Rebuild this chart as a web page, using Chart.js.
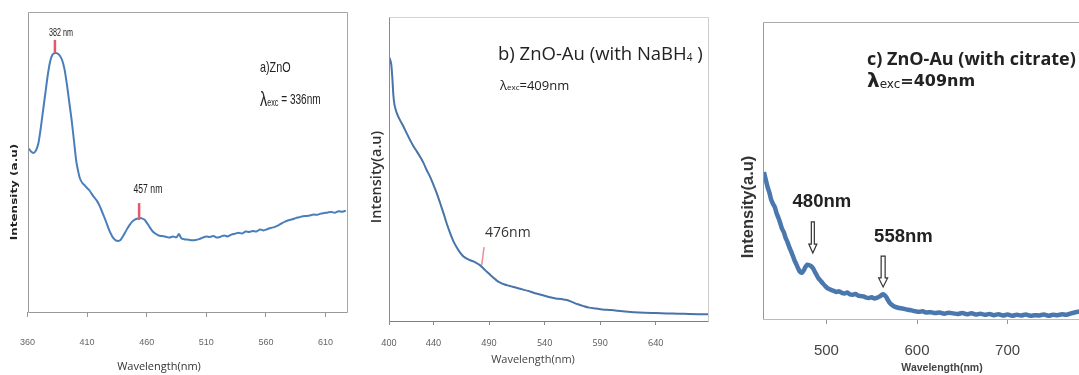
<!DOCTYPE html>
<html lang="en">
<head>
<meta charset="UTF-8">
<title>PL spectra ZnO / ZnO-Au</title>
<script src="https://cdn.jsdelivr.net/npm/chart.js@4.4.0/dist/chart.umd.min.js"></script>
<style>
  body { margin: 0; background: #fff; width: 1079px; height: 375px; overflow: hidden; position: relative; }
  .panel { position: absolute; top: 0; height: 375px; }
</style>
</head>
<body>
<div class="panel" style="left:0;width:360px"><canvas id="chartA" width="360" height="375"></canvas></div>
<div class="panel" style="left:360px;width:360px"><canvas id="chartB" width="360" height="375"></canvas></div>
<div class="panel" style="left:720px;width:400px"><canvas id="chartC" width="400" height="375"></canvas></div>
<script>
// ---- data (intensity in arbitrary units 0-100) ----
var wavelengthA = [361,363,365,367,369,371,373,375,377,379,381,383,385,387,389,391,393,395,397,399,401,403,404,406,408,410,412,414,416,418,420,422,424,426,428,430,432,434,436,438,440,442,444,446,448,450,452,454,456,458,460,462,464,466,468,470,473,476,479,482,485,487,489,492,495,498,501,504,507,510,513,516,519,522,525,528,531,534,537,540,543,546,549,552,555,558,561,564,567,570,573,576,579,582,585,588,591,594,597,600,603,606,609,612,615,618,621,624,627];
var intensityA  = [54.5,53.5,53,53.8,56,61,67,73,79,83.5,85.8,86.3,86.2,85.5,84,81,76,70,64,57,50,46,44.5,43,42.2,41.3,40.5,39.3,38.2,37.2,35.8,34,32,30,27.8,26,24.6,23.9,23.7,24,25.2,26.6,28,29.2,30.2,30.8,31.1,31.3,31.2,30.8,29.8,28.6,27.4,26.5,26,25.5,25.3,25.1,24.8,25.2,24.9,26,24.6,24.2,24.1,23.9,24,24.3,24.8,25.2,25,25.3,24.8,25.1,25.5,25.2,25.8,26.1,26.4,26.2,26.8,26.7,27,26.8,27.5,27.2,27.6,28,28.3,28.8,29.5,30.1,30.6,30.9,31.3,31.6,31.9,32,32.2,32.5,32.4,32.8,33,33.2,33.3,33.1,33.6,33.4,33.8];

var wavelengthB = [400,401,402,403,404,405,407,410,413,416,419,422,425,428,431,434,437,440,443,446,449,452,455,458,461,464,467,470,473,476,479,482,485,488,491,494,497,500,504,508,512,516,520,525,530,535,540,545,550,555,560,565,570,575,580,586,592,600,610,620,630,640,650,660,670,687];
var intensityB  = [86.8,86,84.5,80,74,71,68.4,66,64,61.7,59.5,57.5,55.8,54,52,49.6,47.4,44.8,42,38.8,35.5,32,28.9,26.2,24.2,22.5,21.2,20.5,20,19.6,19,18.3,17.3,16.2,15.2,14.2,13.3,12.6,12,11.6,11.2,10.8,10.4,9.9,9.3,8.8,8.3,7.8,7.4,7.2,6.9,6.2,5.5,4.9,4.4,4.1,3.8,3.6,3.2,2.9,2.7,2.6,2.5,2.4,2.3,2.2];

var wavelengthC = [431,433,435,437,439,441,443,445,447,449,451,453,455,457,459,461,463,465,467,469,471,473,475,477,479,481,483,485,487,489,491,493,496,499,502,505,508,511,514,517,520,523,526,529,532,535,538,541,544,547,550,553,556,559,562,564,566,568,570,573,576,579,582,586,590,594,598,602,606,610,615,620,625,630,635,640,645,650,655,660,665,670,675,680,685,690,695,700,705,710,715,720,725,730,735,740,745,750,755,760,765,770,775,780,790,800];
var intensityC  = [49.5,47,44.5,42.6,40.2,38.8,37.7,35.6,34.1,32.3,30.4,29.2,27.3,25.9,24.2,22.8,21.2,19.6,18.3,16.9,15.8,15.6,16.4,17.6,18.3,18.1,17.8,17.2,16,14.9,13.8,13.1,12,11,10.2,9.8,9.5,9.1,9.3,8.8,8.6,8.9,8.3,8.2,8.4,7.9,7.7,7.6,7.2,7.1,7.3,6.9,7.2,7.6,8.3,8.1,7.4,6.3,5.4,4.6,4.1,3.8,3.6,3.4,3.1,2.9,2.6,2.4,2.6,2.2,2.3,2,2.2,1.8,2.1,1.9,1.7,2,1.6,1.9,1.5,1.8,1.4,1.7,1.3,1.6,1.2,1.5,1.1,1.4,1.2,1.5,1.1,1.3,1.2,1.5,1.1,1.4,1.3,1.6,1.4,1.9,2.3,2.5,2.6,2.7];

var ticksA = [360, 410, 460, 510, 560, 610];
var ticksB = [400, 440, 490, 540, 590, 640];
var ticksC = [500, 600, 700];

var NARROW = '"Liberation Sans", sans-serif';

function points(xs, ys) {
    return xs.map(function (v, i) { return {x: v, y: ys[i]}; });
}

// draws frame, peak markers, arrows and texts
var decor = {
    id: 'decor',
    afterDatasetsDraw: function (chart, args, o) {
        var ctx = chart.ctx, a = chart.chartArea, x = chart.scales.x, y = chart.scales.y;
        ctx.save();
        var edges = {
            top: [a.left, a.top, a.right, a.top],
            bottom: [a.left, a.bottom, a.right, a.bottom],
            left: [a.left, a.top, a.left, a.bottom],
            right: [a.right, a.top, a.right, a.bottom]
        };
        Object.keys(o.frame || {}).forEach(function (k) {
            var e = edges[k];
            ctx.strokeStyle = o.frame[k];
            ctx.lineWidth = 1;
            ctx.beginPath();
            ctx.moveTo(Math.round(e[0]) + 0.5, Math.round(e[1]) + 0.5);
            ctx.lineTo(Math.round(e[2]) + 0.5, Math.round(e[3]) + 0.5);
            ctx.stroke();
        });
        (o.markers || []).forEach(function (m) {
            ctx.strokeStyle = m.color;
            ctx.lineWidth = m.width;
            ctx.beginPath();
            ctx.moveTo(x.getPixelForValue(m.x0), y.getPixelForValue(m.y0));
            ctx.lineTo(x.getPixelForValue(m.x1), y.getPixelForValue(m.y1));
            ctx.stroke();
        });
        (o.arrows || []).forEach(function (m) {
            var px = x.getPixelForValue(m.x), t = y.getPixelForValue(m.y0), b = y.getPixelForValue(m.y1);
            var sw = m.shaft / 2, hw = m.head / 2, hh = m.headLen;
            ctx.beginPath();
            ctx.moveTo(px - sw, t);
            ctx.lineTo(px + sw, t);
            ctx.lineTo(px + sw, b - hh);
            ctx.lineTo(px + hw, b - hh);
            ctx.lineTo(px, b);
            ctx.lineTo(px - hw, b - hh);
            ctx.lineTo(px - sw, b - hh);
            ctx.closePath();
            ctx.fillStyle = '#fff';
            ctx.fill();
            ctx.strokeStyle = '#333';
            ctx.lineWidth = 1.2;
            ctx.stroke();
        });
        (o.texts || []).forEach(function (t) {
            var px = t.data ? x.getPixelForValue(t.x) : t.x;
            var py = t.data ? y.getPixelForValue(t.y) : t.y;
            var runs = t.runs || [{text: t.text, font: t.font}];
            ctx.save();
            ctx.translate(px, py);
            if (t.rotate) ctx.rotate(t.rotate);
            if (t.stretch) ctx.scale(t.stretch, 1);
            ctx.textBaseline = 'middle';
            ctx.textAlign = 'left';
            ctx.fillStyle = t.color || '#222';
            var total = 0;
            runs.forEach(function (r) { ctx.font = r.font; total += ctx.measureText(r.text).width; });
            var cx = t.align === 'center' ? -total / 2 : 0;
            runs.forEach(function (r) {
                ctx.font = r.font;
                ctx.fillText(r.text, cx, r.dy || 0);
                cx += ctx.measureText(r.text).width;
            });
            ctx.restore();
        });
        ctx.restore();
    }
};

function xAxis(min, max, tickVals, s) {
    return {
        type: 'linear', min: min, max: max,
        afterBuildTicks: function (sc) { sc.ticks = tickVals.map(function (v) { return {value: v}; }); },
        afterFit: function (sc) { sc.height = s.height; },
        grid: {display: true, drawOnChartArea: false, drawTicks: true, tickLength: s.tickLen, color: s.tickColor},
        border: {display: false},
        ticks: {padding: s.pad, color: s.color, font: s.font, maxRotation: 0, autoSkip: false,
                callback: function (v) { return String(v); }}
    };
}

function makeChart(id, xs, ys, color, width, pad, xs2, deco) {
    return new Chart(document.getElementById(id), {
        type: 'line',
        data: {datasets: [{data: points(xs, ys), borderColor: color, borderWidth: width,
                           pointRadius: 0, tension: 0.3, fill: false}]},
        options: {
            responsive: false, animation: false,
            layout: {padding: pad},
            plugins: {legend: {display: false}, tooltip: {enabled: false}, decor: deco},
            scales: {x: xs2, y: {display: false, min: 0, max: 100}}
        },
        plugins: [decor]
    });
}

// a) ZnO
makeChart('chartA', wavelengthA, intensityA, '#4a7ebb', 2,
    {left: 24, right: 13, top: 12, bottom: 0},
    xAxis(360, 628, ticksA, {height: 63, tickLen: 5, tickColor: '#999', pad: 20, color: '#666',
                             font: {family: NARROW, size: 9}}),
    {
        frame: {top: '#a6a6a6', right: '#a6a6a6', bottom: '#999', left: '#999'},
        markers: [
            {x0: 383, y0: 86.3, x1: 383, y1: 90.7, color: '#e05a6a', width: 2.5},
            {x0: 453.6, y0: 30.7, x1: 453.6, y1: 36.3, color: '#e05a6a', width: 2.5}
        ],
        texts: [
            {text: '382 nm', data: true, x: 388, y: 93, align: 'center', stretch: 0.72, font: '10px ' + NARROW},
            {text: '457 nm', data: true, x: 461, y: 40.7, align: 'center', stretch: 0.72, font: '12px ' + NARROW},
            {text: 'a)ZnO', x: 260, y: 68, stretch: 0.72, font: '15px ' + NARROW},
            {x: 260, y: 100, stretch: 0.72, runs: [{text: 'λ', font: '20px ' + NARROW},
                                    {text: 'exc', font: '10px ' + NARROW, dy: 3},
                                    {text: ' = 336nm', font: '14px ' + NARROW}]},
            {text: 'Intensity (a.u)', x: 15, y: 192, align: 'center', rotate: -Math.PI / 2, stretch: 1.5,
             font: 'bold 8px "DejaVu Sans"'},
            {text: 'Wavelength(nm)', x: 159, y: 367, align: 'center', font: '11px "Open Sans"', color: '#333'}
        ]
    });

// b) ZnO-Au (NaBH4)
makeChart('chartB', wavelengthB, intensityB, '#4874a8', 2,
    {left: 29, right: 12, top: 17, bottom: 0},
    xAxis(400, 687, ticksB, {height: 54, tickLen: 4, tickColor: '#888', pad: 13, color: '#555',
                             font: {family: '"Open Sans"', size: 9}}),
    {
        frame: {top: '#d4d4d4', right: '#cccccc', bottom: '#808080', left: '#8a8a8a'},
        markers: [
            {x0: 485.5, y0: 24.3, x1: 483.4, y1: 18.4, color: '#e8909a', width: 1.5}
        ],
        texts: [
            {x: 138, y: 55, runs: [{text: 'b) ZnO-Au (with NaBH', font: '18.5px "Open Sans"'},
                                   {text: '4', font: '10px "Open Sans"', dy: 3},
                                   {text: ' )', font: '18.5px "Open Sans"'}]},
            {x: 140, y: 86, runs: [{text: 'λ', font: '13px "Open Sans"'},
                                   {text: 'exc', font: '8px "Open Sans"', dy: 2},
                                   {text: '=409nm', font: '13px "Open Sans"'}]},
            {text: '476nm', data: true, x: 486.4, y: 28.9, font: '14px "Open Sans"', color: '#333'},
            {text: 'Intensity(a.u)', x: 17, y: 177, align: 'center', rotate: -Math.PI / 2,
             font: '600 14.5px "Open Sans"', color: '#333'},
            {text: 'Wavelength(nm)', x: 173, y: 360, align: 'center', font: '11px "Open Sans"', color: '#444'}
        ]
    });

// c) ZnO-Au (citrate)
makeChart('chartC', wavelengthC, intensityC, '#4a78ae', 4.5,
    {left: 43, right: 10, top: 22, bottom: 0},
    xAxis(430, 813, ticksC, {height: 56, tickLen: 5, tickColor: '#999', pad: 18, color: '#444',
                             font: {family: '"Liberation Sans"', size: 15}}),
    {
        frame: {top: '#aaaaaa', left: '#999999', bottom: '#bbbbbb'},
        arrows: [
            {x: 485, y0: 32.7, y1: 22.2, shaft: 3, head: 8, headLen: 9},
            {x: 562.6, y0: 21.2, y1: 10.8, shaft: 4, head: 9, headLen: 9}
        ],
        texts: [
            {text: 'c) ZnO-Au (with citrate)', x: 147, y: 60, font: 'bold 18px "Open Sans"'},
            {x: 147, y: 82, runs: [{text: 'λ', font: 'bold 20px "DejaVu Sans"'},
                                   {text: 'exc', font: '12px "DejaVu Sans"', dy: 3},
                                   {text: '=409nm', font: 'bold 16px "DejaVu Sans"'}]},
            {text: '480nm', data: true, x: 495, y: 39.4, align: 'center', font: 'bold 18.5px "Liberation Sans"'},
            {text: '558nm', data: true, x: 585, y: 27.6, align: 'center', font: 'bold 18.5px "Liberation Sans"'},
            {text: 'Intensity(a.u)', x: 28, y: 207, align: 'center', rotate: -Math.PI / 2,
             font: 'bold 16.5px "Liberation Sans"', color: '#333'},
            {text: 'Wavelength(nm)', x: 222, y: 368, align: 'center', font: 'bold 10.5px "Liberation Sans"', color: '#444'}
        ]
    });
</script>
</body>
</html>
